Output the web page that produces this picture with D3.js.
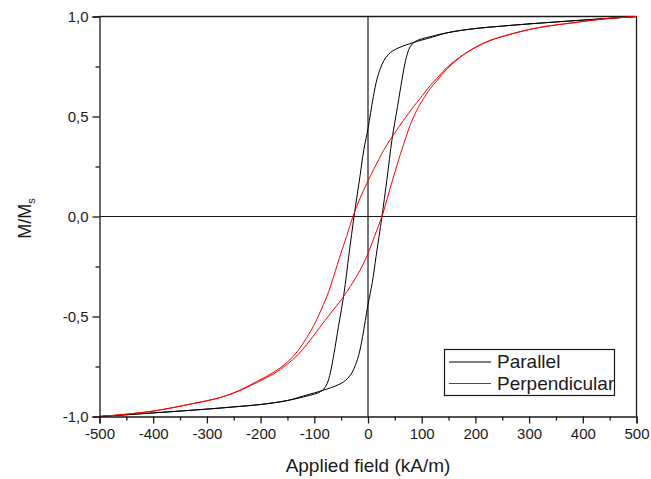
<!DOCTYPE html>
<html>
<head>
<meta charset="utf-8">
<script src="https://cdn.jsdelivr.net/npm/d3@7"></script>
<style>
  body { margin: 0; background: #fff; }
  svg text { font-family: "Liberation Sans", Arial, Helvetica, sans-serif; fill: #1a1a1a; }
</style>
</head>
<body>
<div id="chart"></div>
<script>
// Parallel (black) - branch coming down from +saturation
const parDownH = [-500,-400,-300,-250,-200,-150,-120,-100,-90,-82,-76,-70,-63,-55,-45,-35,-26,-15,-8,0,5,10,17,23,30,38,46,56,70,85,100,120,150,200,250,300,400,500];
const parDownM = [-1.0,-0.982,-0.963,-0.952,-0.94,-0.92,-0.902,-0.888,-0.878,-0.862,-0.835,-0.78,-0.68,-0.55,-0.39,-0.18,0.0,0.2,0.33,0.44,0.52,0.6,0.69,0.74,0.782,0.81,0.828,0.842,0.857,0.87,0.882,0.897,0.92,0.94,0.952,0.963,0.982,1.0];
// Parallel (black) - branch going up from -saturation
const parUpH = [-500,-400,-300,-250,-200,-150,-120,-100,-85,-70,-56,-46,-38,-30,-23,-17,-10,-5,0,8,15,26,35,45,55,63,70,76,82,90,100,120,150,200,250,300,400,500];
const parUpM = [-1.0,-0.982,-0.963,-0.952,-0.94,-0.92,-0.897,-0.882,-0.87,-0.857,-0.842,-0.828,-0.81,-0.782,-0.74,-0.69,-0.6,-0.52,-0.44,-0.33,-0.2,0.0,0.18,0.39,0.55,0.68,0.78,0.835,0.862,0.878,0.888,0.902,0.92,0.94,0.952,0.963,0.982,1.0];
// Perpendicular (red) - down branch
const perpDownH = [-500,-456,-393,-331,-275,-240,-207,-175,-150,-130,-114,-100,-83,-73,-64,-50,-40,-28,-15,0,20,29,41.5,54,66,85,97,116,128,147,170,190,220,250,315,380,440,500];
const perpDownM = [-1.0,-0.99,-0.97,-0.938,-0.905,-0.87,-0.825,-0.778,-0.728,-0.67,-0.605,-0.54,-0.44,-0.375,-0.3,-0.18,-0.1,0.0,0.09,0.178,0.285,0.33,0.385,0.435,0.48,0.55,0.59,0.655,0.69,0.745,0.795,0.83,0.872,0.9,0.943,0.968,0.988,1.0];
// Perpendicular (red) - up branch
const perpUpH = [-500,-456,-393,-331,-275,-240,-207,-175,-151,-130,-114,-90,-70,-48,-33,-15,0,12,26,40,57,69,79,91,100,116,128,147,170,190,220,250,315,380,440,500];
const perpUpM = [-1.0,-0.99,-0.97,-0.938,-0.905,-0.872,-0.83,-0.785,-0.74,-0.69,-0.64,-0.555,-0.485,-0.41,-0.35,-0.27,-0.185,-0.1,0.0,0.13,0.283,0.383,0.46,0.532,0.575,0.64,0.678,0.738,0.793,0.83,0.872,0.9,0.943,0.968,0.988,1.0];

const xTicks = [-500,-400,-300,-200,-100,0,100,200,300,400,500];
const xMinor = [-450,-350,-250,-150,-50,50,150,250,350,450];
const yTicks = [-1.0,-0.5,0.0,0.5,1.0];
const yMinor = [-0.75,-0.25,0.25,0.75];
const seriesNames = ["Parallel", "Perpendicular"];
const seriesColors = ["#000000", "#ff0000"];

const width = 651,
    height = 479,
    margin = {top: 16.5, bottom: 62.5, left: 99.5, right: 14.5};

const xScale = d3.scaleLinear()
    .domain([-500, 500])
    .range([margin.left, width - margin.right]);

const yScale = d3.scaleLinear()
    .domain([-1, 1])
    .range([height - margin.bottom, margin.top]);

const svg = d3.select("#chart")
    .append("svg")
    .attr("width", width)
    .attr("height", height);

// plain hyphen minus + decimal comma, like the original
const comma = d => d.toFixed(1).replace(".", ",");
const plain = d => String(d);

// frame top / right
svg.append("line")
    .attr("x1", xScale(-500)).attr("x2", xScale(500))
    .attr("y1", yScale(1)).attr("y2", yScale(1))
    .attr("stroke", "#1a1a1a").attr("stroke-width", 1.3);
svg.append("line")
    .attr("x1", xScale(500)).attr("x2", xScale(500))
    .attr("y1", yScale(1)).attr("y2", yScale(-1))
    .attr("stroke", "#1a1a1a").attr("stroke-width", 1.3);

// zero lines
svg.append("line")
    .attr("x1", xScale(-500)).attr("x2", xScale(500))
    .attr("y1", yScale(0)).attr("y2", yScale(0))
    .attr("stroke", "#1a1a1a").attr("stroke-width", 1.2);
svg.append("line")
    .attr("x1", xScale(0)).attr("x2", xScale(0))
    .attr("y1", yScale(1)).attr("y2", yScale(-1))
    .attr("stroke", "#1a1a1a").attr("stroke-width", 1.2);

// curves
const line = d3.line()
    .x(d => xScale(d[0]))
    .y(d => yScale(d[1]))
    .curve(d3.curveCatmullRom.alpha(0.5));

const branches = [
    {h: parDownH, m: parDownM, c: seriesColors[0]},
    {h: parUpH, m: parUpM, c: seriesColors[0]},
    {h: perpDownH, m: perpDownM, c: seriesColors[1]},
    {h: perpUpH, m: perpUpM, c: seriesColors[1]}
];

svg.selectAll("path.branch")
    .data(branches)
    .join("path")
    .attr("class", "branch")
    .attr("d", b => line(b.h.map((h, i) => [h, b.m[i]])))
    .attr("fill", "none")
    .attr("stroke", b => b.c)
    .attr("stroke-width", 1);

// axes
const xAxis = d3.axisBottom(xScale).tickValues(xTicks).tickSize(7).tickPadding(5).tickFormat(plain);
const xAxisMinor = d3.axisBottom(xScale).tickValues(xMinor).tickSize(4).tickFormat("");
const yAxis = d3.axisLeft(yScale).tickValues(yTicks).tickSize(7).tickPadding(4).tickFormat(comma);
const yAxisMinor = d3.axisLeft(yScale).tickValues(yMinor).tickSize(4).tickFormat("");

const gx = svg.append("g")
    .attr("transform", `translate(0, ${height - margin.bottom})`)
    .call(xAxis);
svg.append("g")
    .attr("transform", `translate(0, ${height - margin.bottom})`)
    .call(xAxisMinor)
    .select(".domain").remove();

const gy = svg.append("g")
    .attr("transform", `translate(${margin.left}, 0)`)
    .call(yAxis);
svg.append("g")
    .attr("transform", `translate(${margin.left}, 0)`)
    .call(yAxisMinor)
    .select(".domain").remove();

svg.selectAll(".domain, .tick line")
    .attr("stroke", "#1a1a1a")
    .attr("stroke-width", 1.3);

svg.selectAll(".tick text")
    .attr("font-family", null)
    .style("font-size", "15px");

// axis titles
svg.append("text")
    .attr("x", xScale(0))
    .attr("y", 472)
    .attr("text-anchor", "middle")
    .style("font-size", "19px")
    .text("Applied field (kA/m)");

const ylab = svg.append("text")
    .attr("transform", `translate(31, ${yScale(0) + 2}) rotate(-90)`)
    .attr("text-anchor", "middle")
    .style("font-size", "18px");
ylab.append("tspan").text("M/M");
ylab.append("tspan").attr("dy", 4).style("font-size", "11px").text("s");

// legend
const legend = svg.append("g");
legend.append("rect")
    .attr("x", 444.5).attr("y", 349.5)
    .attr("width", 170).attr("height", 46)
    .attr("fill", "#fff")
    .attr("stroke", "#1a1a1a")
    .attr("stroke-width", 1.2);

const legendRows = legend.selectAll("g.row")
    .data(seriesNames)
    .join("g")
    .attr("class", "row")
    .attr("transform", (d, i) => `translate(449, ${362 + i * 21.5})`);

legendRows.append("line")
    .attr("x1", 0).attr("x2", 42)
    .attr("stroke", (d, i) => seriesColors[i])
    .attr("stroke-width", 1);

legendRows.append("text")
    .attr("x", 48)
    .attr("y", 6)
    .style("font-size", "19px")
    .text(d => d);
</script>
</body>
</html>
